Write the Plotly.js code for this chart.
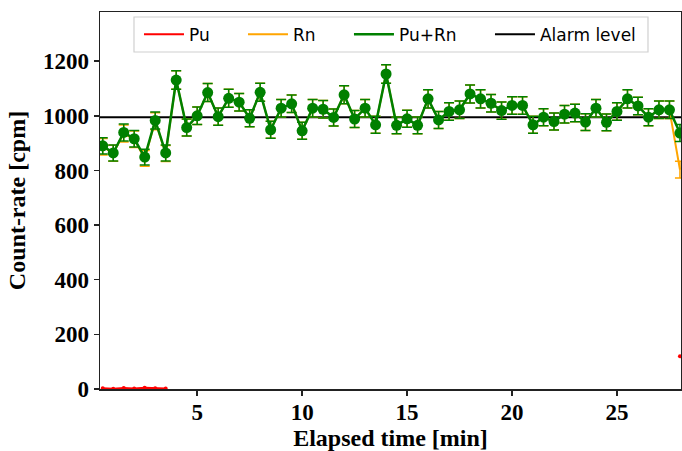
<!DOCTYPE html>
<html>
<head>
<meta charset="utf-8">
<script src="https://cdn.plot.ly/plotly-3.0.1.min.js"></script>
<style>html,body{margin:0;padding:0;background:#fff;}#chart{width:682px;height:451px;}</style>
</head>
<body>
<div id="chart"></div>
<script>
// Elapsed time [min]
const timeMin = [0.5,1,1.5,2,2.5,3,3.5,4,4.5,5,5.5,6,6.5,7,7.5,8,8.5,9,9.5,10,
  10.5,11,11.5,12,12.5,13,13.5,14,14.5,15,15.5,16,16.5,17,17.5,18,18.5,19,19.5,20,
  20.5,21,21.5,22,22.5,23,23.5,24,24.5,25,25.5,26,26.5,27,27.5,28];
// Pu+Rn count-rate [cpm]
const totalRate = [890,864,939,916,849,983,864,1131,957,1000,1085,997,1064,1050,991,1086,949,1028,1044,945,
  1028,1024,994,1077,988,1028,967,1153,965,989,965,1062,985,1016,1022,1080,1062,1046,1019,1038,
  1038,967,995,979,1006,1010,977,1028,976,1016,1062,1036,995,1022,1022,937];
const totalErr = [30,29,31,30,29,31,29,34,31,32,33,32,33,32,31,33,31,32,32,31,
  32,32,31,33,31,32,31,34,31,31,31,33,31,32,32,33,33,32,32,32,
  32,31,31,31,32,32,31,32,31,32,33,32,31,32,32,31];
// Rn count-rate [cpm]
const rnRate = [887,863,935,914,844,980,862,1131,957,1000,1085,997,1064,1050,991,1086,949,1028,1044,945,
  1028,1024,994,1077,988,1028,967,1153,965,989,965,1062,985,1016,1022,1080,1062,1046,1019,1038,
  1038,967,995,979,1006,1010,977,1028,976,1016,1062,1036,995,1022,1022,803];
// Pu count-rate [cpm] (null = not visible in the reference)
const puRate = [3,1,4,2,5,3,2,null,null,null,null,null,null,null,null,null,null,null,null,null,
  null,null,null,null,null,null,null,null,null,null,null,null,null,null,null,null,null,null,null,null,
  null,null,null,null,null,null,null,null,null,null,null,null,null,null,null,120];
const alarmLevel = 995;
const yTicks = [0,200,400,600,800,1000,1200];
const xTicks = [5,10,15,20,25];

const alarmX = [timeMin[0] - 1, timeMin[timeMin.length - 1] + 1];

const traces = [
  {x: alarmX, y: [alarmLevel, alarmLevel], mode: 'lines', name: 'Alarm level',
   line: {color: '#000000', width: 2}, legend: 'legend4'},
  {x: timeMin, y: puRate, mode: 'lines+markers', name: 'Pu',
   line: {color: '#ff0000', width: 2}, marker: {color: '#ff0000', size: 4},
   legend: 'legend', showlegend: false},
  {x: timeMin, y: rnRate, mode: 'lines', name: 'Rn',
   line: {color: '#ffa500', width: 2}, legend: 'legend2',
   error_y: {type: 'data', array: totalErr, color: '#ffa500', thickness: 1.5, width: 5}},
  {x: timeMin, y: totalRate, mode: 'lines+markers', name: 'Pu+Rn',
   line: {color: '#008000', width: 2.5}, marker: {color: '#008000', size: 11},
   legend: 'legend3', showlegend: false,
   error_y: {type: 'data', array: totalErr, color: '#008000', thickness: 1.5, width: 5}},
  // legend-only line entries
  {x: [null], y: [null], mode: 'lines', name: 'Pu', line: {color: '#ff0000', width: 2}, legend: 'legend'},
  {x: [null], y: [null], mode: 'lines', name: 'Pu+Rn', line: {color: '#008000', width: 2.5}, legend: 'legend3'}
];

const legFont = {family: 'DejaVu Sans', size: 17, color: '#000'};
function leg(x) {
  return {x: x, y: 0.94, xanchor: 'left', yanchor: 'middle', orientation: 'h',
    bgcolor: 'rgba(0,0,0,0)', borderwidth: 0, font: legFont, itemwidth: 40};
}

const axFont = {family: 'Liberation Serif', size: 23, color: '#000', weight: 'bold'};
const titleFont = {family: 'Liberation Serif', size: 24, color: '#000', weight: 'bold'};

const layout = {
  width: 682, height: 451,
  margin: {l: 100, r: 1, t: 12, b: 62},
  paper_bgcolor: '#fff', plot_bgcolor: '#fff',
  showlegend: true,
  legend: leg(0.0671),
  legend2: leg(0.2461),
  legend3: leg(0.4285),
  legend4: leg(0.6712),
  xaxis: {
    range: [0.37, 28.05], tickvals: xTicks, ticktext: xTicks.map(String),
    showgrid: false, zeroline: false, showline: true, mirror: true,
    linecolor: '#222', linewidth: 1.5, ticks: 'outside', ticklen: 5, tickwidth: 1.5, tickcolor: '#222',
    tickfont: axFont, automargin: false, ticklabelstandoff: -3,
    title: {text: 'Elapsed time [min]', font: titleFont, standoff: 8}
  },
  yaxis: {
    range: [0, 1380], tickvals: yTicks, ticktext: yTicks.map(String),
    showgrid: false, zeroline: false, showline: true, mirror: true,
    linecolor: '#222', linewidth: 1.5, ticks: 'outside', ticklen: 5, tickwidth: 1.5, tickcolor: '#222',
    tickfont: axFont, automargin: false,
    title: {text: 'Count-rate [cpm]', font: titleFont, standoff: 10}
  },
  shapes: [{
    type: 'rect', xref: 'paper', yref: 'paper', x0: 0.0585, x1: 0.9432, y0: 0.8939, y1: 0.9867,
    line: {color: '#d0d0d0', width: 1.2}, fillcolor: 'rgba(255,255,255,0.8)', layer: 'above'
  }]
};

Plotly.newPlot('chart', traces, layout, {displayModeBar: false, staticPlot: true});
</script>
</body>
</html>
